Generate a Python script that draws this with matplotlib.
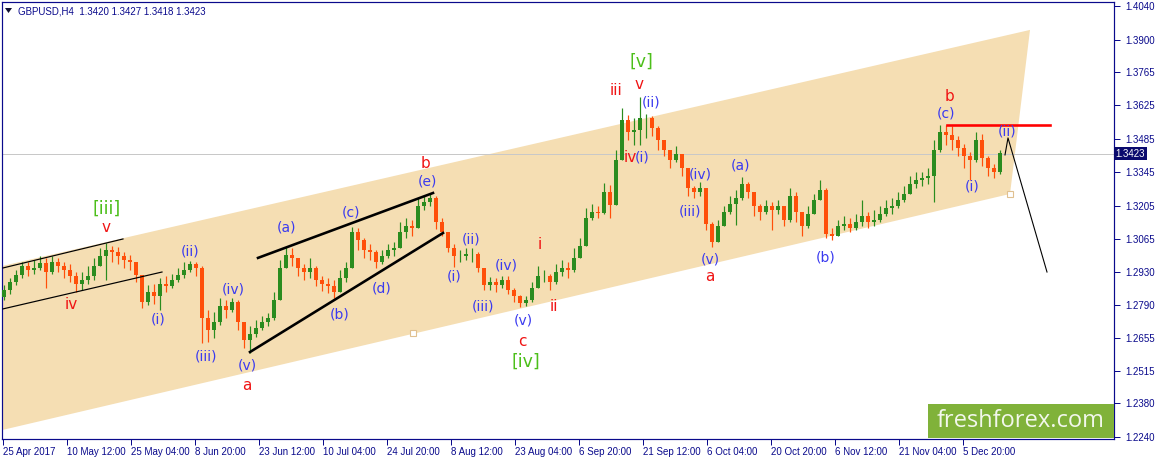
import numpy as np
import matplotlib
matplotlib.use("Agg")
import matplotlib.pyplot as plt
from matplotlib.patches import Rectangle, Polygon

# ---------------- data ----------------
symbol_title = "GBPUSD,H4  1.3420 1.3427 1.3418 1.3423"
last_price = 1.3423

first_open = 1.2825
closes = [
    1.2854, 1.2887, 1.2917, 1.2954, 1.2938, 1.2946, 1.2967, 1.2929, 1.2971, 1.2954,
    1.2938, 1.2912, 1.2879, 1.2896, 1.2912, 1.2954, 1.2996, 1.3021, 1.3013, 1.2996,
    1.2979, 1.2971, 1.2917, 1.2804, 1.2846, 1.2829, 1.2879, 1.2871, 1.2896, 1.2917,
    1.2938, 1.2963, 1.2946, 1.2737, 1.2687, 1.2720, 1.2787, 1.2770, 1.2804, 1.2720,
    1.2645, 1.2670, 1.2695, 1.2720, 1.2737, 1.2812, 1.2946, 1.3000, 1.2988, 1.2946,
    1.2929, 1.2946, 1.2896, 1.2879, 1.2871, 1.2846, 1.2904, 1.2946, 1.3096, 1.3063,
    1.3021, 1.3013, 1.2971, 1.2996, 1.3021, 1.3029, 1.3096, 1.3121, 1.3113, 1.3205,
    1.3221, 1.3238, 1.3138, 1.3096, 1.3029, 1.2996, 1.2996, 1.3004, 1.3004, 1.2946,
    1.2875, 1.2887, 1.2875, 1.2896, 1.2854, 1.2829, 1.2800, 1.2812, 1.2862, 1.2912,
    1.2912, 1.2887, 1.2929, 1.2946, 1.2938, 1.2988, 1.3038, 1.3155, 1.3180, 1.3176,
    1.3263, 1.3209, 1.3397, 1.3564, 1.3514, 1.3522, 1.3572, 1.3572, 1.3530, 1.3480,
    1.3439, 1.3397, 1.3422, 1.3363, 1.3280, 1.3263, 1.3280, 1.3130, 1.3054, 1.3121,
    1.3180, 1.3213, 1.3238, 1.3297, 1.3263, 1.3205, 1.3180, 1.3205, 1.3188, 1.3205,
    1.3146, 1.3247, 1.3180, 1.3121, 1.3171, 1.3230, 1.3272, 1.3088, 1.3079, 1.3121,
    1.3130, 1.3113, 1.3138, 1.3163, 1.3138, 1.3146, 1.3171, 1.3196, 1.3205, 1.3230,
    1.3255, 1.3297, 1.3313, 1.3322, 1.3330, 1.3439, 1.3514, 1.3501, 1.3480, 1.3447,
    1.3414, 1.3397, 1.3480, 1.3405, 1.3363, 1.3347, 1.3426,
]
highs = [
    1.2875, 1.2904, 1.2938, 1.2971, 1.2971, 1.2979, 1.2996, 1.2988, 1.2996, 1.2988,
    1.2971, 1.2963, 1.2929, 1.2929, 1.2954, 1.2988, 1.3029, 1.3050, 1.3038, 1.3034,
    1.3013, 1.3000, 1.2971, 1.2912, 1.2875, 1.2879, 1.2904, 1.2912, 1.2921, 1.2946,
    1.2971, 1.2975, 1.2971, 1.2954, 1.2770, 1.2762, 1.2821, 1.2812, 1.2821, 1.2812,
    1.2708, 1.2704, 1.2729, 1.2745, 1.2758, 1.2846, 1.2979, 1.3034, 1.3029, 1.2988,
    1.2963, 1.2988, 1.2954, 1.2912, 1.2904, 1.2896, 1.2938, 1.2971, 1.3117, 1.3113,
    1.3071, 1.3046, 1.3021, 1.3021, 1.3046, 1.3054, 1.3138, 1.3155, 1.3146, 1.3238,
    1.3247, 1.3259, 1.3247, 1.3155, 1.3088, 1.3046, 1.3021, 1.3029, 1.3029, 1.3013,
    1.2946, 1.2908, 1.2904, 1.2912, 1.2912, 1.2862, 1.2833, 1.2829, 1.2887, 1.2954,
    1.2938, 1.2921, 1.2963, 1.2979, 1.2971, 1.3029, 1.3071, 1.3196, 1.3213, 1.3205,
    1.3301, 1.3292, 1.3439, 1.3614, 1.3585, 1.3572, 1.3660, 1.3589, 1.3581, 1.3539,
    1.3472, 1.3439, 1.3455, 1.3414, 1.3355, 1.3288, 1.3305, 1.3272, 1.3138, 1.3146,
    1.3205, 1.3247, 1.3272, 1.3326, 1.3305, 1.3255, 1.3213, 1.3230, 1.3221, 1.3230,
    1.3188, 1.3280, 1.3263, 1.3171, 1.3205, 1.3255, 1.3313, 1.3280, 1.3113, 1.3146,
    1.3163, 1.3155, 1.3171, 1.3230, 1.3180, 1.3188, 1.3205, 1.3230, 1.3238, 1.3263,
    1.3288, 1.3330, 1.3347, 1.3347, 1.3363, 1.3480, 1.3543, 1.3543, 1.3539, 1.3497,
    1.3464, 1.3430, 1.3514, 1.3505, 1.3414, 1.3380, 1.3439,
]
lows = [
    1.2812, 1.2837, 1.2875, 1.2904, 1.2912, 1.2921, 1.2938, 1.2862, 1.2921, 1.2929,
    1.2904, 1.2887, 1.2846, 1.2854, 1.2879, 1.2896, 1.2963, 1.2896, 1.2971, 1.2963,
    1.2946, 1.2938, 1.2887, 1.2779, 1.2791, 1.2795, 1.2770, 1.2846, 1.2862, 1.2887,
    1.2904, 1.2929, 1.2912, 1.2633, 1.2637, 1.2654, 1.2708, 1.2737, 1.2762, 1.2687,
    1.2612, 1.2591, 1.2658, 1.2687, 1.2704, 1.2729, 1.2812, 1.2946, 1.2954, 1.2912,
    1.2896, 1.2904, 1.2871, 1.2850, 1.2841, 1.2821, 1.2854, 1.2887, 1.2946, 1.3021,
    1.2988, 1.2979, 1.2946, 1.2963, 1.2988, 1.2996, 1.3029, 1.3071, 1.3079, 1.3113,
    1.3188, 1.3205, 1.3109, 1.3079, 1.3013, 1.2950, 1.2971, 1.2979, 1.2971, 1.2929,
    1.2854, 1.2854, 1.2846, 1.2862, 1.2837, 1.2804, 1.2783, 1.2787, 1.2804, 1.2871,
    1.2887, 1.2854, 1.2879, 1.2912, 1.2904, 1.2929, 1.2996, 1.3038, 1.3146, 1.3155,
    1.3171, 1.3155, 1.3209, 1.3397, 1.3480, 1.3460, 1.3460, 1.3489, 1.3497, 1.3439,
    1.3414, 1.3363, 1.3388, 1.3330, 1.3247, 1.3238, 1.3247, 1.3104, 1.3034, 1.3054,
    1.3130, 1.3171, 1.3125, 1.3230, 1.3238, 1.3163, 1.3146, 1.3171, 1.3104, 1.3171,
    1.3121, 1.3138, 1.3138, 1.3079, 1.3113, 1.3180, 1.3230, 1.3071, 1.3063, 1.3079,
    1.3104, 1.3096, 1.3104, 1.3121, 1.3113, 1.3121, 1.3138, 1.3163, 1.3171, 1.3196,
    1.3221, 1.3263, 1.3280, 1.3288, 1.3297, 1.3221, 1.3430, 1.3460, 1.3439, 1.3414,
    1.3363, 1.3313, 1.3388, 1.3372, 1.3330, 1.3322, 1.3338,
]

date_labels = ["25 Apr 2017", "10 May 12:00", "25 May 04:00", "8 Jun 20:00",
               "23 Jun 12:00", "10 Jul 04:00", "24 Jul 20:00", "8 Aug 12:00",
               "23 Aug 04:00", "6 Sep 20:00", "21 Sep 12:00", "6 Oct 04:00",
               "20 Oct 20:00", "6 Nov 12:00", "21 Nov 04:00", "5 Dec 20:00"]
price_ticks = [1.4040, 1.3900, 1.3765, 1.3625, 1.3485, 1.3345, 1.3205,
               1.3065, 1.2930, 1.2790, 1.2655, 1.2515, 1.2380, 1.2240]

# wave labels: text, bar position, price, colour key
wave_text = ["[iii]", "v", "iv", "(i)", "(ii)", "(iii)", "(iv)", "(v)", "a",
             "(a)", "(b)", "(c)", "(d)", "(e)", "b",
             "(i)", "(ii)", "(iii)", "(iv)", "(v)", "c", "[iv]", "i", "ii",
             "iii", "v", "[v]", "(ii)", "iv", "(i)", "(iv)", "(iii)", "(a)", "(v)", "a",
             "(b)", "b", "(c)", "(i)", "(ii)"]
wave_x = [107, 106, 71, 158, 190, 206, 233, 247, 247,
          287, 340, 351, 382, 427, 426,
          454, 471, 483, 506, 523, 522, 526, 540, 554,
          616, 639, 641, 651, 630, 642, 700, 690, 740, 710, 710,
          826, 949, 946, 972, 1007]
wave_p = [1.3192, 1.3117, 1.2795, 1.2729, 1.3013, 1.2578, 1.2858, 1.2537, 1.2457,
          1.3113, 1.2750, 1.3176, 1.2862, 1.3305, 1.3384,
          1.2912, 1.3063, 1.2787, 1.2958, 1.2725, 1.2637, 1.2553, 1.3042, 1.2783,
          1.3685, 1.3710, 1.3806, 1.3635, 1.3409, 1.3409, 1.3338, 1.3180, 1.3372, 1.2983, 1.2912,
          1.2988, 1.3664, 1.3593, 1.3288, 1.3514]
wave_kind = ["g", "r", "r", "b", "b", "b", "b", "b", "r",
             "b", "b", "b", "b", "b", "r",
             "b", "b", "b", "b", "b", "r", "g", "r", "r",
             "r", "r", "g", "b", "r", "b", "b", "b", "b", "b", "r",
             "b", "r", "b", "b", "b"]

# drawn objects (bar, price)
channel_fill = [(2, 1.2954), (1030, 1.3940), (1010, 1.3255), (2, 1.2269)]
thin_lines = [((3, 1.2946), (123, 1.3067)), ((3, 1.2775), (162, 1.2929))]
thick_lines = [((258, 1.2988), (433, 1.3259)), ((250, 1.2595), (443, 1.3092))]
resistance = ((947, 1050), 1.3543)
projection = ([1005, 1008, 1047], [1.3418, 1.3489, 1.2929])
handles = ([1010, 413], [1.3255, 1.2674])

# ---------------- figure ----------------
W, H = 1155, 461
fig = plt.figure(figsize=(W / 100, H / 100), dpi=100)
fig.patch.set_facecolor("white")
x0, x1, ytop, ybot = 2, 1114, 2, 439
ax = fig.add_axes([x0 / W, (H - ybot) / H, (x1 - x0) / W, (ybot - ytop) / H])
ax.set_xlim(x0, x1)
ax.set_ylim(1.22317, 1.40566)

navy = "#0A0A8C"
PX = 0.72  # one pixel in points

# channel
ax.add_patch(Polygon(channel_fill, closed=True, facecolor="#F5DEB3",
                     edgecolor="none", zorder=0))

# current price line
ax.axhline(last_price, color="#C8C8C8", lw=PX, zorder=1)

# candles
n = len(closes)
xs = 4 + 6 * np.arange(n)
c = np.array(closes)
o = np.array([first_open] + closes[:-1])
hi = np.maximum(np.array(highs), np.maximum(o, c))
lo = np.minimum(np.array(lows), np.minimum(o, c))
up = c >= o
cols = np.where(up, "#2B8C1F", "#FF4F0A")
ax.vlines(xs, lo, hi, colors=cols, lw=1.2 * PX, zorder=3)
ax.bar(xs, c - o, bottom=o, width=3.6, color=cols, linewidth=0, zorder=3)

# trend lines
for (a, b) in thin_lines:
    ax.plot([a[0], b[0]], [a[1], b[1]], color="black", lw=1.2 * PX, zorder=4)
for (a, b) in thick_lines:
    ax.plot([a[0], b[0]], [a[1], b[1]], color="black", lw=2.6 * PX, zorder=4)
ax.plot(list(resistance[0]), [resistance[1]] * 2, color="#FF0000", lw=2.6 * PX, zorder=4)
ax.plot(projection[0], projection[1], color="black", lw=1.1 * PX, zorder=4)
ax.plot(handles[0], handles[1], ls="none", marker="s", ms=4, mfc="white",
        mec="#E0C090", mew=0.8, zorder=5)

# wave labels
colmap = {"b": "#3A3AF0", "r": "#F01414", "g": "#4CBF1A"}
for t, x, p, k in zip(wave_text, wave_x, wave_p, wave_kind):
    fs = 12.5 if k == "g" else (11 if k == "r" else 10)
    ax.text(x, p, t, color=colmap[k], fontsize=fs, ha="center", va="center",
            family="DejaVu Sans", zorder=6)

# axes styling
for s in ax.spines.values():
    s.set_color(navy)
    s.set_linewidth(1.2 * PX)
ax.yaxis.tick_right()
ax.set_yticks(price_ticks)
ax.set_yticklabels([f"{v:.4f}" for v in price_ticks])
tick_pos = 3 + 64 * np.arange(len(date_labels))
ax.set_xticks(tick_pos)
ax.set_xticklabels(date_labels, ha="left")
ax.tick_params(axis="both", colors=navy, labelcolor=navy, labelsize=7,
               length=4, width=PX, direction="out", pad=1.5)
for lab in ax.get_xticklabels() + ax.get_yticklabels():
    lab.set_family("Liberation Sans")
ax.tick_params(axis="x", pad=2)
ax.tick_params(axis="y", pad=4)

# current price box
ax.text(1.0015, last_price, f"{last_price:.4f}", transform=ax.get_yaxis_transform(),
        ha="left", va="center", color="white", fontsize=7, family="Liberation Sans",
        bbox=dict(boxstyle="square,pad=0.15", fc="#0A0A6E", ec="none"), zorder=10,
        clip_on=False)

# title
fig.text(18 / W, 1 - 11 / H, symbol_title, color=navy, fontsize=7,
         family="Liberation Sans", va="center", ha="left")
fig.add_artist(Polygon([(5 / W, 1 - 8 / H), (12 / W, 1 - 8 / H), (8.5 / W, 1 - 13 / H)],
                       closed=True, transform=fig.transFigure, fc="#101030", ec="none"))

# watermark
fig.add_artist(Rectangle((928 / W, 1 - 438 / H), (1114 - 928) / W, 34 / H,
                         transform=fig.transFigure, fc="#80B23A", ec="none", zorder=20))
fig.text(1021 / W, 1 - 421 / H, "freshforex.com", color="#F2F7EC", fontsize=17,
         family="Open Sans", ha="center", va="center", zorder=21)

fig.savefig("out.png", dpi=100)
